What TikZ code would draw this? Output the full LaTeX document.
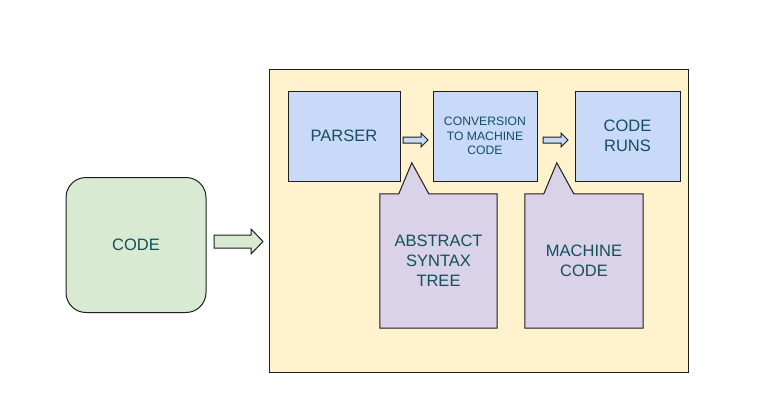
\documentclass[tikz,border=0pt]{standalone}
\usepackage{fontspec}
\setmainfont{Liberation Sans}
\usetikzlibrary{backgrounds, calc}

\definecolor{codegreen}{HTML}{D9EAD3}
\definecolor{stageyellow}{HTML}{FFF2CC}
\definecolor{stepblue}{HTML}{C9DAF8}
\definecolor{notepurple}{HTML}{D9D2E9}
\definecolor{labelteal}{HTML}{134F5C}
\definecolor{edgegray}{HTML}{1E1E1E}

\begin{document}
\begin{tikzpicture}[x=1pt, y=-1pt,
  every node/.style={text=labelteal, align=center, inner sep=0pt},
  bigtext/.style={font=\fontsize{16.5}{20}\selectfont},
  smalltext/.style={font=\fontsize{12.2}{14.7}\selectfont},
  edge/.style={draw=edgegray, line width=1pt},
  stepbox/.style={edge, fill=stepblue, minimum height=90pt},
  arrowshape/.style={edge, line join=miter}]

\useasboundingbox (0,0) rectangle (759,405);

%Container
\begin{scope}[on background layer]
\node (stage) at (478.5,220.5) [edge, fill=stageyellow, minimum width=419pt, minimum height=303pt] {};
\end{scope}

%Nodes
\node (code) at (136,245) [edge, fill=codegreen, rounded corners=20pt, minimum width=140pt, minimum height=135pt, bigtext] {CODE};
\node (parser) at (344,136) [stepbox, minimum width=112pt, bigtext] {PARSER};
\node (convert) at (485,136) [stepbox, minimum width=104pt, smalltext] {CONVERSION\\TO MACHINE\\CODE};
\node (runs) at (627.5,136) [stepbox, minimum width=105pt, bigtext] {CODE\\RUNS};

\node (ast) at (438.5,261) [minimum width=117pt, minimum height=134pt, bigtext] {ABSTRACT\\SYNTAX\\TREE};
\node (mcode) at (584,261) [minimum width=118pt, minimum height=134pt, bigtext] {MACHINE\\CODE};

%Callouts
\begin{scope}[on background layer]
\draw[edge, fill=notepurple] (ast.north west) -- ($(ast.north west)+(19,0)$) -- ($(ast.north west)+(32,-31)$)
  -- ($(ast.north west)+(49,0)$) -- (ast.north east) -- (ast.south east) -- (ast.south west) -- cycle;
\draw[edge, fill=notepurple] (mcode.north west) -- ($(mcode.north west)+(19,0)$) -- ($(mcode.north west)+(32,-31)$)
  -- ($(mcode.north west)+(49,0)$) -- (mcode.north east) -- (mcode.south east) -- (mcode.south west) -- cycle;
\end{scope}

%Arrows
\draw[arrowshape, fill=codegreen] (214,235) -- (251,235) -- (251,229) -- (263,241.5) -- (251,254) -- (251,248) -- (214,248) -- cycle;
\draw[arrowshape, fill=stepblue] (403,137) -- (421,137) -- (421,133) -- (428,140) -- (421,147) -- (421,143) -- (403,143) -- cycle;
\draw[arrowshape, fill=stepblue] (543,137) -- (561,137) -- (561,133) -- (568,140) -- (561,147) -- (561,143) -- (543,143) -- cycle;

\end{tikzpicture}
\end{document}
